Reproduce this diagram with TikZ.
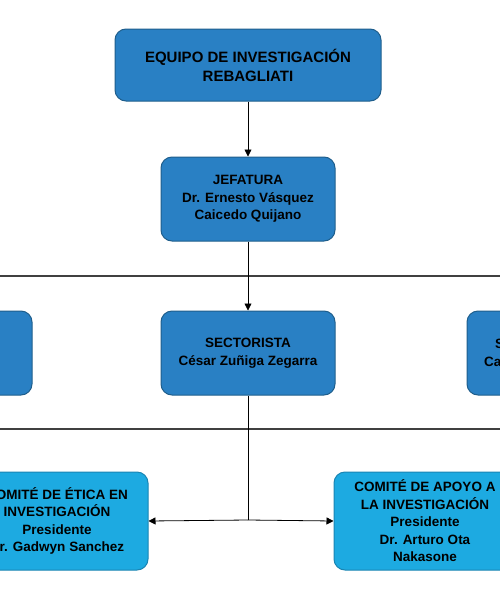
\documentclass[tikz,border=0pt]{standalone}
\usepackage{fontspec}
\setmainfont{Liberation Sans}
\usetikzlibrary{arrows.meta}
\definecolor{bleufonce}{HTML}{2980C4}
\definecolor{bordfonce}{HTML}{1F5E8C}
\definecolor{bleuclair}{HTML}{1DAAE1}
\definecolor{bordclair}{HTML}{1A85B3}
\definecolor{gristrait}{HTML}{404040}
\begin{document}
\begin{tikzpicture}[x=1pt,y=-1pt,
    boite/.style={draw=bordfonce, fill=bleufonce, rounded corners=11pt, line width=1pt,
        minimum width=174pt, minimum height=84pt, inner sep=0pt, align=center,
        font=\fontsize{13.5}{17.5}\selectfont\bfseries},
    comite/.style={boite, draw=bordclair, fill=bleuclair, minimum width=182pt, minimum height=98pt},
    fleche/.style={-{Triangle[length=7pt,width=7pt]}, line width=0.8pt},
    barre/.style={gristrait, line width=1.2pt}]
    \useasboundingbox (0,0) rectangle (500,600);
    \clip (0,0) rectangle (500,600);

    % Barres horizontales
    \coordinate (barreHg) at (0,276);
    \coordinate (barreHd) at (500,276);
    \coordinate (barreBg) at (0,429);
    \coordinate (barreBd) at (500,429);
    \draw[barre] (barreHg) -- (barreHd);
    \draw[barre] (barreBg) -- (barreBd);

    % Boites
    \node[boite, minimum width=266pt, minimum height=72pt, font=\fontsize{15}{19}\selectfont\bfseries]
        (equipo) at (248,65) {EQUIPO DE INVESTIGACIÓN\\REBAGLIATI};
    \node[boite] (jefatura) at (248,199) {JEFATURA\\Dr. Ernesto Vásquez\\Caicedo Quijano};
    \node[boite] (sectorista) at (248,353) {SECTORISTA\\César Zuñiga Zegarra};
    \node[boite] (sectoristaG) at (-55,353) {};
    \node[boite] (sectoristaD) at (554,353) {\makebox[118pt][l]{S}\\\makebox[140pt][l]{Ca}};
    \node[comite] (etica) at (57,521) {COMITÉ DE ÉTICA EN\\INVESTIGACIÓN\\Presidente\\Dr. Gadwyn Sanchez};
    \node[comite] (apoyo) at (425,521) {COMITÉ DE APOYO A\\LA INVESTIGACIÓN\\Presidente\\Dr. Arturo Ota\\Nakasone};

    % Liaisons
    \draw[fleche] (equipo) -- (jefatura);
    \draw[fleche] (jefatura) -- (sectorista);
    \coordinate (partage) at (248,520);
    \draw[line width=0.8pt] (sectorista.south) -- (partage);
    \draw[fleche] (partage) -- (etica.east);
    \draw[fleche] (partage) -- (apoyo.west);
\end{tikzpicture}
\end{document}
